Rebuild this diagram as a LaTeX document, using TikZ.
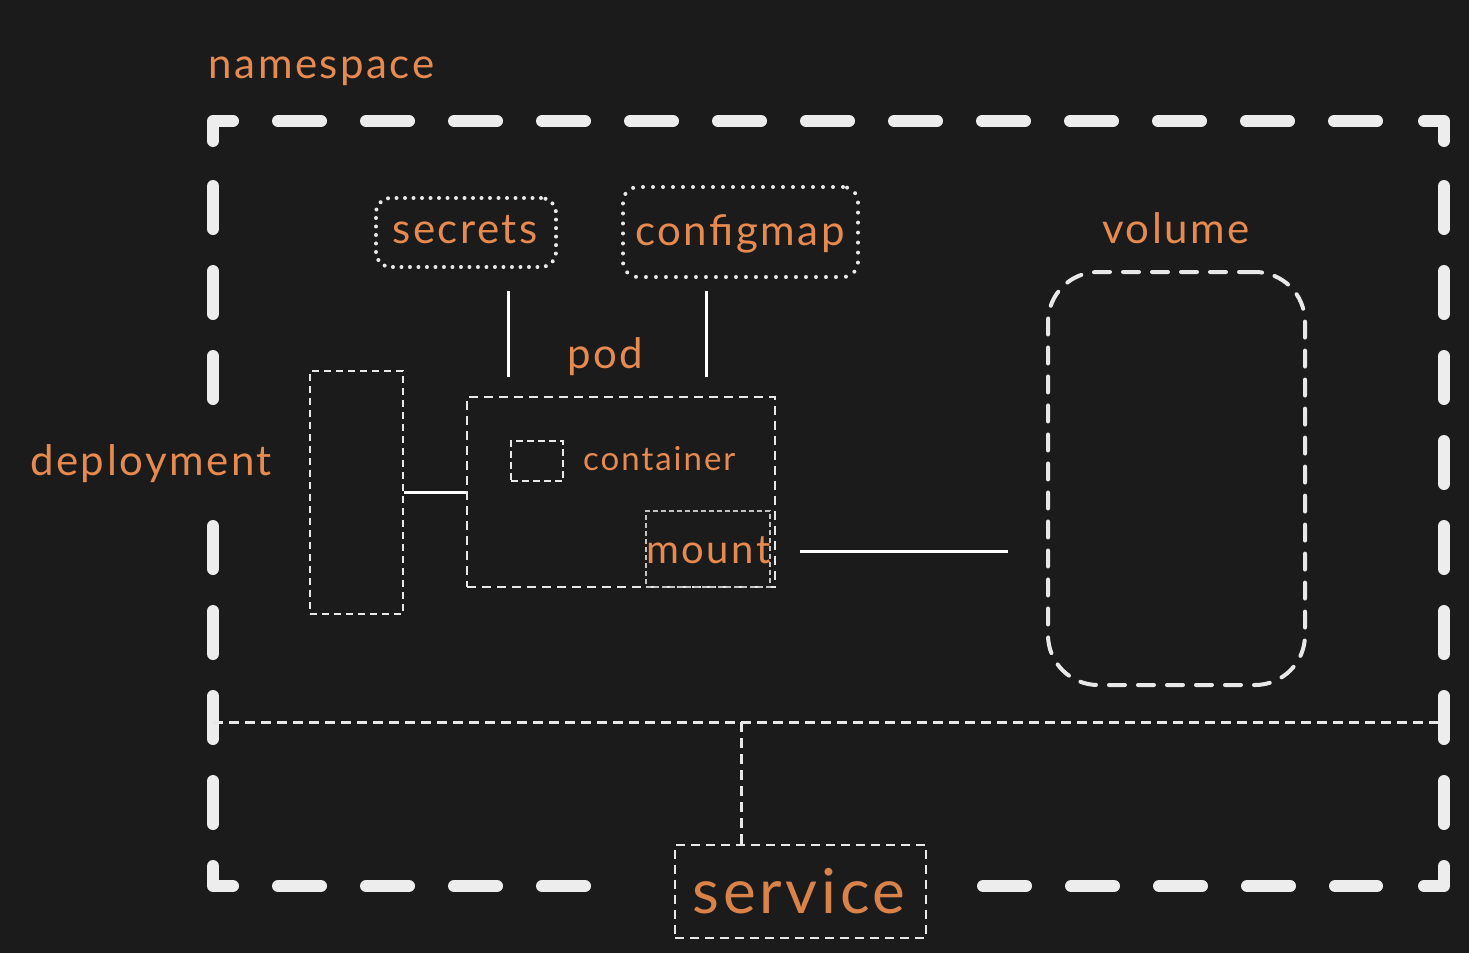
\documentclass[tikz,border=0pt]{standalone}
\usepackage{fontspec}
\setmainfont[LetterSpace=6]{Lato}
\definecolor{bg}{HTML}{1B1B1B}
\definecolor{orangeT}{HTML}{E68A50}
\definecolor{orangeS}{HTML}{D9824A}
\definecolor{frameC}{HTML}{EDEDED}
\definecolor{lineC}{HTML}{E8E8E8}
\definecolor{greyC}{HTML}{C4C4C4}
\begin{document}
\begin{tikzpicture}[x=1pt,y=-1pt,
  lbl/.style={text=orangeT, inner sep=0pt, anchor=base, font=\fontsize{42}{50}\selectfont},
  frame/.style={draw=frameC, line width=12pt, line cap=round, line join=round},
  framedash/.style={frame, dash pattern=on 43pt off 45pt},
  framedashv/.style={frame, dash pattern=on 43pt off 42pt},
  thindash/.style={draw=lineC, line width=3pt, dash pattern=on 10pt off 6pt},
  boxdash/.style={draw=lineC, line width=2.5pt, dash pattern=on 9pt off 6pt, inner sep=0pt},
  finedash/.style={draw=greyC, line width=1.5pt, dash pattern=on 5pt off 3pt, inner sep=0pt},
  dotbox/.style={draw=lineC, line width=4pt, line cap=round, rounded corners=15pt, inner sep=0pt},
  solidline/.style={draw=white, line width=3pt},
]
\fill[bg] (0,0) rectangle (1469,953);
\useasboundingbox (0,0) rectangle (1469,953);

% namespace frame
\draw[framedash] (278,121) -- (1377,121);
\draw[framedashv] (213,186) -- (213,400);
\draw[framedashv] (213,526) -- (213,824);
\draw[framedashv] (1444,186) -- (1444,824);
\draw[framedash] (278,886) -- (592,886);
\draw[framedash] (983,886) -- (1377,886);
\draw[frame] (213,141) -- (213,121) -- (233,121);
\draw[frame] (1424,121) -- (1444,121) -- (1444,141);
\draw[frame] (213,866) -- (213,886) -- (233,886);
\draw[frame] (1424,886) -- (1444,886) -- (1444,866);

% labels
\node[lbl] (nslbl) at (321.5,78) {namespace};
\node[lbl] (deplbl) at (151,475) {deployment};
\node[lbl] (podlbl) at (605,368) {pod};
\node[lbl] (vollbl) at (1176,243) {volume};

% secrets / configmap
\node[dotbox, dash pattern=on 0pt off 8.5pt, minimum width=180pt, minimum height=69pt] (secrets) at (466,232.5) {};
\node[lbl] (sectxt) at (465,243) {secrets};
\node[dotbox, dash pattern=on 0pt off 10pt, minimum width=235pt, minimum height=90pt] (configmap) at (740.5,232) {};
\node[lbl] (cfgtxt) at (740,245) {configmap};

% deployment and pod
\node[boxdash, dash pattern=on 7pt off 5pt, line width=2pt, minimum width=93pt, minimum height=243pt] (deploy) at (356.5,492) {};
\node[boxdash, minimum width=308pt, minimum height=190pt] (pod) at (621,492) {};
\node[boxdash, dash pattern=on 7pt off 4pt, minimum width=52pt, minimum height=40pt] (cbox) at (537,461) {};
\node[lbl, anchor=base west, font=\fontsize{33}{40}\selectfont] (ctxt) at (583,470) {container};
\node[finedash, minimum width=124pt, minimum height=76pt] (mount) at (708,549) {};
\node[lbl, font=\fontsize{40}{48}\selectfont] (mtxt) at (708.5,563) {mount};

% volume
\node[draw=lineC, line width=4pt, line cap=round, dash pattern=on 16pt off 13pt, rounded corners=50pt, minimum width=257pt, minimum height=413pt, inner sep=0pt] (volume) at (1176.5,478.5) {};

% service
\node[boxdash, minimum width=251pt, minimum height=93pt] (service) at (800.5,891.5) {};
\node[lbl, text=orangeS, font=\fontsize{62}{70}\selectfont] (svtxt) at (799,913) {service};

% connectors
\coordinate (s1) at (508,291);
\coordinate (s2) at (508,377);
\coordinate (c1) at (706,291);
\coordinate (c2) at (706,377);
\coordinate (m1) at (800,551);
\coordinate (v1) at (1008,551);
\coordinate (busL) at (213,722);
\coordinate (busR) at (1444,722);
\coordinate (busT) at (741,722);
\draw[solidline] (s1) -- (s2);
\draw[solidline] (c1) -- (c2);
\draw[solidline] (deploy.east) -- (pod.west);
\draw[solidline] (m1) -- (v1);
\draw[thindash] (busL) -- (busR);
\draw[thindash] (busT) -- (busT |- service.north);
\end{tikzpicture}
\end{document}
